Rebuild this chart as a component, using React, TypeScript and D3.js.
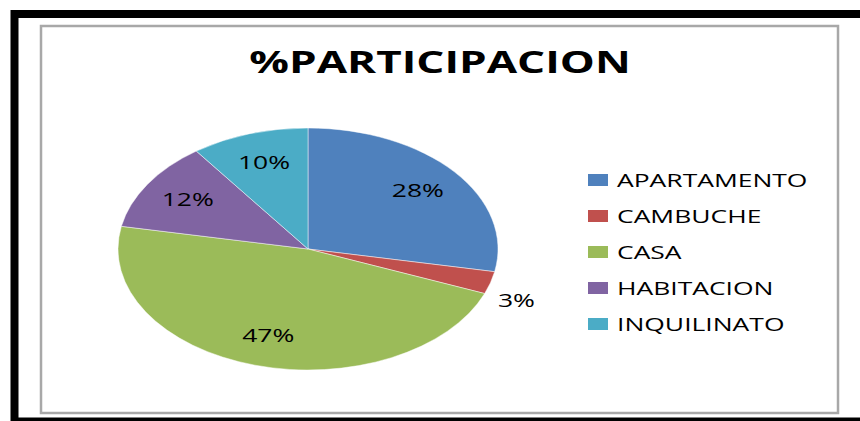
import React from 'react';
import * as d3 from 'd3';

// chart data
const categories = ['APARTAMENTO', 'CAMBUCHE', 'CASA', 'HABITACION', 'INQUILINATO'];
const shares = [28, 3, 47, 12, 10];
const colors = ['#4F81BD', '#C0504D', '#9BBB59', '#8064A2', '#4BACC6'];
const title = '%PARTICIPACION';

const W = 860, H = 421;
const cx = 308, cy = 249, rx = 190, ry = 121;
const stretch = 1.47; // the picture is widened horizontally
const font = "'Open Sans', 'DejaVu Sans', sans-serif";

export default function App() {
  const data = categories.map((c, i) => ({ name: c, value: shares[i], color: colors[i] }));
  const total = d3.sum(shares);

  const pie = d3.pie<any>().sort(null).value((d: any) => d.value);
  const arcs = pie(data);
  const arc = d3.arc<any>().innerRadius(0).outerRadius(ry);

  // point on the ellipse at angle a (from top, clockwise) and relative radius r
  const pt = (a: number, r: number) => [cx + Math.sin(a) * rx * r, cy - Math.cos(a) * ry * r];

  const legendY = d3.scalePoint<string>().domain(categories).range([180, 324]);

  return (
    <div style={{ position: 'absolute', left: 0, top: 0 }}>
      <svg width={W} height={H} style={{ display: 'block', fontFamily: font }}>
        <rect x={0} y={0} width={W} height={H} fill="#fff" />
        <rect x={14.5} y={14} width={W + 20} height={407.5} fill="none" stroke="#000" strokeWidth={8} />
        <rect x={41} y={26} width={797} height={387} fill="#fff" stroke="#a8a8a8" strokeWidth={2.5} />

        <text transform={`translate(440,73) scale(${stretch},1)`} textAnchor="middle"
          fontSize={30} fontWeight="bold" fill="#000">{title}</text>

        <g transform={`translate(${cx},${cy}) scale(${rx / ry},1)`}>
          {arcs.map((a, i) => (
            <path key={i} d={arc(a) as string} fill={a.data.color}
              stroke="#fff" strokeOpacity={0.6} strokeWidth={0.8} vectorEffect="non-scaling-stroke" />
          ))}
        </g>

        {arcs.map((a, i) => {
          const mid = (a.startAngle + a.endAngle) / 2;
          const small = a.data.value / total < 0.05;
          const [x, y] = small ? pt(mid, 1.03) : pt(mid, 0.75);
          const label = Math.round((a.data.value / total) * 100) + '%';
          return small ? (
            <text key={i} transform={`translate(${x + 2},${y + 23}) scale(${stretch},1)`}
              fontSize={18} fill="#000">{label}</text>
          ) : (
            <text key={i} transform={`translate(${x},${y + 6}) scale(${stretch},1)`}
              textAnchor="middle" fontSize={18} fill="#000">{label}</text>
          );
        })}

        {data.map((d, i) => {
          const y = legendY(d.name) as number;
          return (
            <g key={i}>
              <rect x={588} y={y - 6} width={20} height={12} fill={d.color} />
              <text transform={`translate(617,${y + 7}) scale(${stretch},1)`} fontSize={18} fill="#000">{d.name}</text>
            </g>
          );
        })}
      </svg>
    </div>
  );
}
